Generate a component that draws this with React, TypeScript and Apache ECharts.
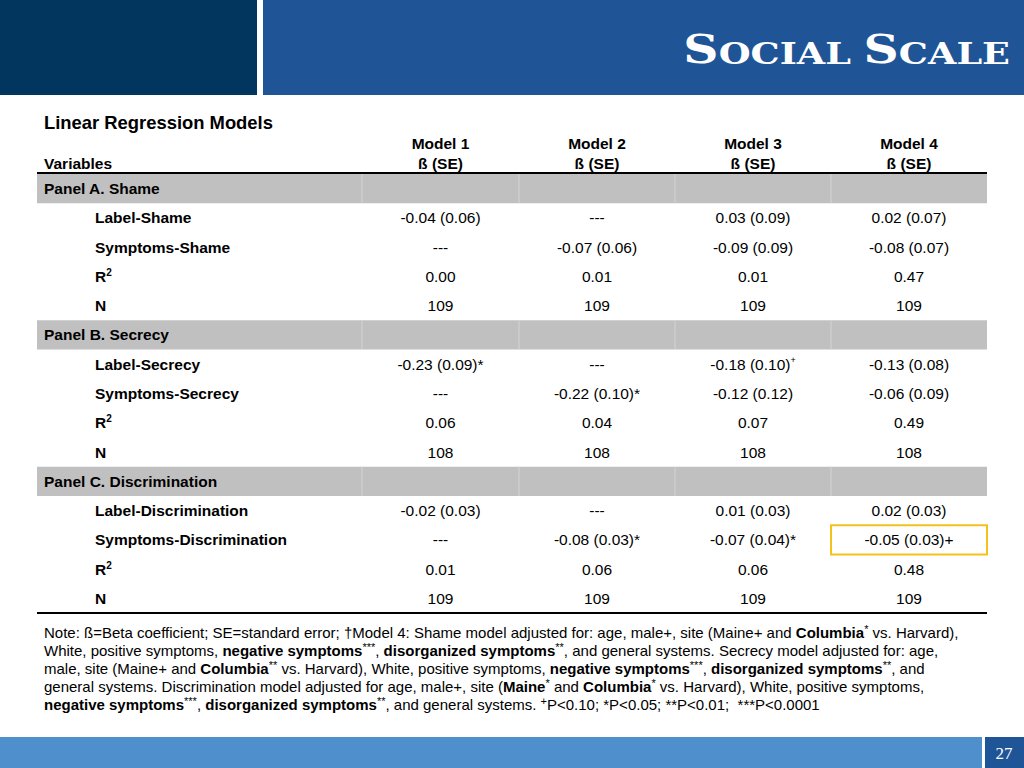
import React, { useEffect, useRef } from "react";
import * as echarts from "echarts";

// ---------- data ----------
const slideTitle = "Social Scale";
const slideNumber = "27";
const tableTitle = "Linear Regression Models";
const stubHeader = "Variables";
const models = ["Model 1", "Model 2", "Model 3", "Model 4"];
const statHeader = "ß (SE)";
const panels = ["Panel A. Shame", "Panel B. Secrecy", "Panel C. Discrimination"];
const rowLabels = [
  ["Label-Shame", "Symptoms-Shame", "R<s>2</s>", "N"],
  ["Label-Secrecy", "Symptoms-Secrecy", "R<s>2</s>", "N"],
  ["Label-Discrimination", "Symptoms-Discrimination", "R<s>2</s>", "N"],
];
const panelAValues = [
  ["-0.04 (0.06)", "---", "0.03 (0.09)", "0.02 (0.07)"],
  ["---", "-0.07 (0.06)", "-0.09 (0.09)", "-0.08 (0.07)"],
  ["0.00", "0.01", "0.01", "0.47"],
  ["109", "109", "109", "109"],
];
const panelBValues = [
  ["-0.23 (0.09)*", "---", "-0.18 (0.10)<s>+</s>", "-0.13 (0.08)"],
  ["---", "-0.22 (0.10)*", "-0.12 (0.12)", "-0.06 (0.09)"],
  ["0.06", "0.04", "0.07", "0.49"],
  ["108", "108", "108", "108"],
];
const panelCValues = [
  ["-0.02 (0.03)", "---", "0.01 (0.03)", "0.02 (0.03)"],
  ["---", "-0.08 (0.03)*", "-0.07 (0.04)*", "-0.05 (0.03)+"],
  ["0.01", "0.06", "0.06", "0.48"],
  ["109", "109", "109", "109"],
];
const panelValues = [panelAValues, panelBValues, panelCValues];
const highlightCell = { panel: 2, row: 1, model: 3 };
const noteLines = [
  "Note: ß=Beta coefficient; SE=standard error; †Model 4: Shame model adjusted for: age, male+, site (Maine+ and <b>Columbia</b><s>*</s> vs. Harvard),",
  "White, positive symptoms, <b>negative symptoms</b><s>***</s>, <b>disorganized symptoms</b><s>**</s>, and general systems. Secrecy model adjusted for: age,",
  "male, site (Maine+ and <b>Columbia</b><s>**</s> vs. Harvard), White, positive symptoms, <b>negative symptoms</b><s>***</s>, <b>disorganized symptoms</b><s>**</s>, and",
  "general systems. Discrimination model adjusted for age, male+, site (<b>Maine</b><s>*</s> and <b>Columbia</b><s>*</s> vs. Harvard), White, positive symptoms,",
  "<b>negative symptoms</b><s>***</s>, <b>disorganized symptoms</b><s>**</s>, and general systems. <s>+</s>P<0.10; *P<0.05; **P<0.01;  ***P<0.0001",
];

// ---------- helpers ----------
const SANS = "Liberation Sans, Arial, sans-serif";

function toRich(s: string, n: string, b: string, sup: string): string {
  const parts = s.split(/(<b>.*?<\/b>|<s>.*?<\/s>)/);
  return parts
    .filter((p) => p.length > 0)
    .map((p) => {
      if (p.startsWith("<b>")) return `{${b}|${p.slice(3, -4)}}`;
      if (p.startsWith("<s>")) return `{${sup}|${p.slice(3, -4)}}`;
      return `{${n}|${p}}`;
    })
    .join("");
}

function titleRich(t: string): string {
  const words = t.split(" ");
  return words
    .map((w, i) => {
      const first = `{big|${w[0].toUpperCase()}}`;
      const rest = `{small|${w.slice(1).toUpperCase()}${i < words.length - 1 ? " " : ""}}`;
      return first + rest;
    })
    .join("");
}

function buildElements() {
  const els: any[] = [];
  // header
  els.push({ type: "rect", shape: { x: 0, y: 0, width: 257, height: 95 }, style: { fill: "#02365f" } });
  els.push({ type: "rect", shape: { x: 263, y: 0, width: 761, height: 95 }, style: { fill: "#1f5597" } });
  const fb = 40, fs = 30;
  els.push({
    type: "text",
    x: 1010,
    y: 55,
    scaleX: 1.22,
    style: {
      x: 0,
      y: 0,
      text: titleRich(slideTitle),
      align: "right",
      verticalAlign: "middle",
      fill: "#ffffff",
      rich: {
        big: { fontSize: fb, fontWeight: "bold", fontFamily: "DejaVu Serif", fill: "#fff", lineHeight: fb * 0.69, verticalAlign: "bottom" },
        small: { fontSize: fs, fontWeight: "bold", fontFamily: "DejaVu Serif", fill: "#fff", lineHeight: fs * 0.69, verticalAlign: "bottom" },
      },
    },
  });
  // footer
  els.push({ type: "rect", shape: { x: 0, y: 737, width: 982, height: 31 }, style: { fill: "#4f8fcb" } });
  els.push({ type: "rect", shape: { x: 985, y: 737, width: 39, height: 31 }, style: { fill: "#1f5597" } });
  els.push({
    type: "text",
    style: { x: 1004, y: 753, text: slideNumber, align: "center", verticalAlign: "middle", fill: "#fff", fontSize: 17, fontFamily: "Liberation Serif" },
  });

  // table
  const left = 37, right = 987;
  const edges = [362, 519, 675, 831, 987];
  const centers = models.map((_, i) => (edges[i] + edges[i + 1]) / 2);
  const top0 = 174, rowH = 29.27;
  const fsz = 15.5;
  const cellRich = (color: string) => ({
    n: { fontSize: fsz, fontFamily: SANS, fill: color, lineHeight: 18 },
    nb: { fontSize: fsz, fontFamily: SANS, fontWeight: "bold", fill: color, lineHeight: 18 },
    sup: { fontSize: 9, fontFamily: SANS, fill: color, lineHeight: 12, verticalAlign: "top" },
    supb: { fontSize: 10, fontFamily: SANS, fontWeight: "bold", fill: color, lineHeight: 13, verticalAlign: "top" },
  });

  els.push({
    type: "text",
    style: { x: 44, y: 122, text: tableTitle, verticalAlign: "middle", fontSize: 18.4, fontWeight: "bold", fontFamily: SANS, fill: "#000" },
  });
  els.push({
    type: "text",
    style: { x: 44, y: 163, text: stubHeader, verticalAlign: "middle", fontSize: fsz, fontWeight: "bold", fontFamily: SANS, fill: "#000" },
  });
  models.forEach((m, i) => {
    els.push({
      type: "text",
      style: { x: centers[i], y: 143, text: m, align: "center", verticalAlign: "middle", fontSize: fsz, fontWeight: "bold", fontFamily: SANS, fill: "#000" },
    });
    els.push({
      type: "text",
      style: { x: centers[i], y: 163, text: statHeader, align: "center", verticalAlign: "middle", fontSize: fsz, fontWeight: "bold", fontFamily: SANS, fill: "#000" },
    });
  });

  panels.forEach((p, pi) => {
    const py = top0 + pi * 5 * rowH;
    els.push({ type: "rect", shape: { x: left, y: py, width: right - left, height: rowH }, style: { fill: "#c0c0c0" } });
    edges.slice(0, 4).forEach((ex) => {
      els.push({ type: "line", shape: { x1: ex, y1: py, x2: ex, y2: py + rowH }, style: { stroke: "#d4d4d4", lineWidth: 1 } });
    });
    els.push({
      type: "text",
      style: { x: 44, y: py + rowH / 2, text: p, verticalAlign: "middle", fontSize: fsz, fontWeight: "bold", fontFamily: SANS, fill: "#000" },
    });
    rowLabels[pi].forEach((lab, ri) => {
      const cy = top0 + (pi * 5 + ri + 1) * rowH + rowH / 2;
      els.push({
        type: "text",
        style: { x: 95, y: cy, text: toRich(lab, "nb", "nb", "supb"), verticalAlign: "middle", rich: cellRich("#000") },
      });
      panelValues[pi][ri].forEach((v, mi) => {
        els.push({
          type: "text",
          style: { x: centers[mi], y: cy, text: toRich(v, "n", "nb", "sup"), align: "center", verticalAlign: "middle", rich: cellRich("#000") },
        });
      });
    });
  });

  // rules
  els.push({ type: "line", shape: { x1: left, y1: 173, x2: right, y2: 173 }, style: { stroke: "#000", lineWidth: 2 } });
  const bottomY = top0 + 15 * rowH;
  els.push({ type: "line", shape: { x1: left, y1: bottomY, x2: right, y2: bottomY }, style: { stroke: "#000", lineWidth: 2 } });

  // highlight
  const hy = top0 + (highlightCell.panel * 5 + highlightCell.row + 1) * rowH;
  els.push({
    type: "rect",
    shape: { x: edges[highlightCell.model], y: hy, width: edges[highlightCell.model + 1] - edges[highlightCell.model], height: rowH },
    style: { fill: "none", stroke: "#f5c21b", lineWidth: 2 },
  });

  // note
  const noteRich = {
    n: { fontSize: 15, fontFamily: SANS, fill: "#000", lineHeight: 18 },
    b: { fontSize: 15, fontFamily: SANS, fontWeight: "bold", fill: "#000", lineHeight: 18 },
    s: { fontSize: 11, fontFamily: SANS, fill: "#000", lineHeight: 14, verticalAlign: "top" },
  };
  noteLines.forEach((ln, i) => {
    els.push({
      type: "text",
      style: { x: 44, y: 632 + i * 18, text: toRich(ln, "n", "b", "s"), verticalAlign: "middle", rich: noteRich },
    });
  });
  return els;
}

export default function App() {
  const ref = useRef<HTMLDivElement>(null);
  useEffect(() => {
    if (!ref.current) return;
    const chart = echarts.init(ref.current, undefined, { renderer: "svg" });
    chart.setOption({
      animation: false,
      backgroundColor: "#ffffff",
      graphic: { elements: buildElements() },
    });
    return () => chart.dispose();
  }, []);
  return <div ref={ref} style={{ position: "absolute", left: 0, top: 0, width: 1024, height: 768, background: "#fff" }} />;
}
